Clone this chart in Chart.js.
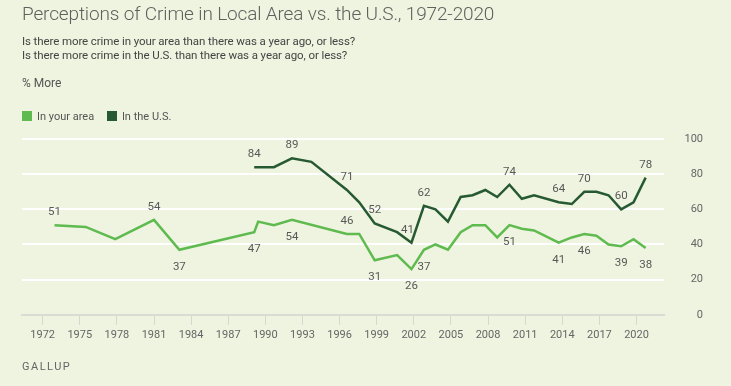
<!DOCTYPE html>
<html>
<head>
<meta charset="utf-8">
<script src="https://cdn.jsdelivr.net/npm/chart.js@4"></script>
<style>
  html, body { margin: 0; padding: 0; }
  body { width: 731px; height: 386px; background: #eef4df; position: relative; overflow: hidden; font-family: Roboto, sans-serif; }
  #chart { position: absolute; left: 0; top: 0; }
  .txt { position: absolute; left: 22px; white-space: nowrap; }
  .title { top: 4px; font-size: 19px; line-height: 20px; color: #5d625e; letter-spacing: -0.15px; font-weight: 300; }
  .sub { top: 34px; font-size: 11.5px; line-height: 14px; color: #444; letter-spacing: -0.1px; }
  .unit { top: 76px; font-size: 12px; line-height: 14px; color: #555; }
  .legend { top: 110px; font-size: 11px; line-height: 14px; color: #555; }
  .legend span.box { display: inline-block; width: 10px; height: 10px; vertical-align: -1px; margin-right: 5px; }
  .legend span.item { margin-right: 10px; }
  .src { top: 360px; font-size: 11px; line-height: 14px; color: #666; letter-spacing: 1.5px; }
</style>
</head>
<body>
<canvas id="chart" width="731" height="386"></canvas>
<div class="txt title">Perceptions of Crime in Local Area vs. the U.S., 1972-2020</div>
<div class="txt sub">Is there more crime in your area than there was a year ago, or less?<br>Is there more crime in the U.S. than there was a year ago, or less?</div>
<div class="txt unit">% More</div>
<div class="txt legend">
  <span class="item"><span class="box" style="background:#5fba4f"></span>In your area</span>
  <span class="item"><span class="box" style="background:#275a32"></span>In the U.S.</span>
</div>
<div class="txt src">GALLUP</div>
<script>
// survey dates as decimal years
const localYears = [1972.96, 1975.48, 1977.87, 1981.0, 1983.05, 1989.1, 1989.42, 1990.69, 1992.15,
  1996.59, 1997.59, 1998.84, 2000.65, 2001.81, 2002.82, 2003.75, 2004.76, 2005.79, 2006.75,
  2007.78, 2008.74, 2009.73, 2010.73, 2011.72, 2013.71, 2014.77, 2015.78, 2016.76, 2017.74,
  2018.76, 2019.76, 2020.74];
const localValues = [51, 50, 43, 54, 37, 47, 53, 51, 54, 46, 46, 31, 34, 26, 37, 40, 37, 47, 51,
  51, 44, 51, 49, 48, 41, 44, 46, 45, 40, 39, 43, 38];

const usYears = [1989.1, 1990.69, 1992.15, 1993.72, 1996.59, 1997.59, 1998.84, 2000.65, 2001.81,
  2002.82, 2003.75, 2004.76, 2005.79, 2006.75, 2007.78, 2008.74, 2009.73, 2010.73, 2011.72,
  2013.71, 2014.77, 2015.78, 2016.76, 2017.74, 2018.76, 2019.76, 2020.74];
const usValues = [84, 84, 89, 87, 71, 64, 52, 47, 41, 62, 60, 53, 67, 68, 71, 67, 74, 66, 68,
  64, 63, 70, 70, 68, 60, 64, 78];

// which points carry a value label
const localAbove = [0, 3, 9];
const localBelow = [4, 5, 8, 11, 13, 14, 21, 24, 26, 29, 31];
const usAbove = [0, 2, 4, 6, 8, 9, 16, 19, 21, 24, 26];

const xTicks = [1972, 1975, 1978, 1981, 1984, 1987, 1990, 1993, 1996, 1999, 2002, 2005, 2008, 2011, 2014, 2017, 2020];
const yTicks = [0, 20, 40, 60, 80, 100];

const LIGHT = "#5fba4f", DARK = "#275a32";

const toPoints = (xs, ys) => xs.map((x, i) => ({ x: x, y: ys[i] }));

const valueLabels = {
  id: "valueLabels",
  afterDatasetsDraw(chart) {
    const ctx = chart.ctx;
    const sets = [
      { meta: chart.getDatasetMeta(0), above: localAbove, below: localBelow },
      { meta: chart.getDatasetMeta(1), above: usAbove, below: [] },
    ];
    ctx.save();
    ctx.font = "11.5px Roboto";
    ctx.fillStyle = "#585858";
    ctx.textAlign = "center";
    ctx.textBaseline = "middle";
    sets.forEach((s) => {
      const data = chart.data.datasets[s.meta.index].data;
      s.above.forEach((i) => {
        const p = s.meta.data[i];
        // the 41 on the U.S. line sits a little left of its point
        const dx = s.meta.index === 1 && data[i].y === 41 ? -4 : 0;
        ctx.fillText(data[i].y, p.x + dx, p.y - 13);
      });
      s.below.forEach((i) => {
        const p = s.meta.data[i];
        ctx.fillText(data[i].y, p.x, p.y + 17);
      });
    });
    ctx.restore();
  },
};

new Chart(document.getElementById("chart"), {
  type: "line",
  data: {
    datasets: [
      {
        label: "In your area",
        data: toPoints(localYears, localValues),
        borderColor: LIGHT,
        borderWidth: 2.5,
        pointRadius: 0,
        tension: 0,
      },
      {
        label: "In the U.S.",
        data: toPoints(usYears, usValues),
        borderColor: DARK,
        borderWidth: 2.5,
        pointRadius: 0,
        tension: 0,
      },
    ],
  },
  options: {
    responsive: false,
    animation: false,
    events: [],
    layout: { padding: { top: 139, left: 22, right: 28, bottom: 40 } },
    plugins: { legend: { display: false }, tooltip: { enabled: false } },
    scales: {
      x: {
        type: "linear",
        min: 1970.33,
        max: 2022.26,
        afterBuildTicks: (axis) => {
          axis.ticks = xTicks.map((v) => ({ value: v }));
        },
        ticks: {
          autoSkip: false,
          maxRotation: 0,
          padding: 4,
          color: "#666",
          font: { family: "Roboto", size: 11 },
          callback: (v) => String(v),
        },
        grid: { drawOnChartArea: false, drawTicks: true, tickLength: 10, color: "#d4d8cf", lineWidth: 1 },
        border: { display: true, color: "#d8dcd3", width: 2 },
      },
      y: {
        position: "right",
        min: 0,
        max: 100,
        afterBuildTicks: (axis) => {
          axis.ticks = yTicks.map((v) => ({ value: v }));
        },
        ticks: {
          padding: 10,
          crossAlign: "far",
          color: "#666",
          font: { family: "Roboto", size: 11 },
        },
        grid: {
          drawTicks: false,
          lineWidth: 2,
          color: (c) => (c.tick && c.tick.value === 0 ? "rgba(0,0,0,0)" : "#ffffff"),
        },
        border: { display: false },
      },
    },
  },
  plugins: [valueLabels],
});
</script>
</body>
</html>
